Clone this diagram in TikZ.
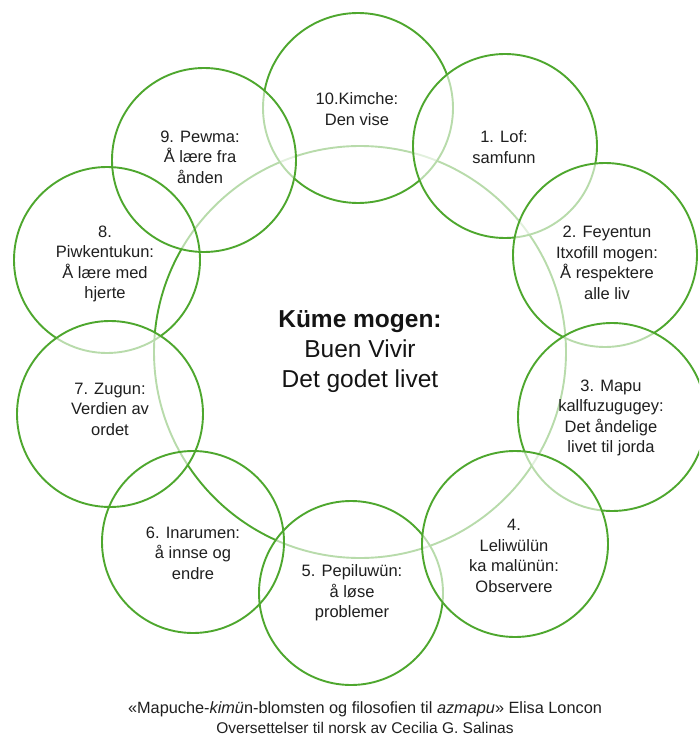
\documentclass[tikz,border=0pt]{standalone}
\usepackage{fontspec}
\setmainfont{Liberation Sans}
\definecolor{petal}{RGB}{78,167,46}
\tikzset{
  ring/.style={draw=petal, line width=1.9pt, fill=white, fill opacity=0.6},
  openring/.style={draw=petal, line width=1.9pt},
  label/.style={align=center, font=\fontsize{16.5}{20.5}\selectfont, text=black!88},
  core/.style={align=center, font=\fontsize{24.5}{30}\selectfont, text=black!92},
  caption/.style={align=center, font=\fontsize{15.5}{20}\selectfont, text=black!88}
}
\begin{document}
\begin{tikzpicture}[x=1pt, y=-1pt]
\useasboundingbox (0,0) rectangle (699,738);
\begin{scope}
\clip (0,0) rectangle (699,738);
% the central circle, lowest in the stack
\draw[openring] (360,352) circle (206);
% the ten petals, in stacking order
\path[ring] (358,108) circle (95);  % 10
\path[ring] (204,160) circle (92);  % 9
\path[ring] (505,146) circle (92);  % 1
\path[ring] (605,255) circle (92);  % 2
\path[ring] (612,417) circle (94);  % 3
\path[ring] (351,593) circle (92);  % 5
\path[ring] (515,544) circle (93);  % 4
\path[openring] (107,260) circle (93); % 8
\path[ring] (110,414) circle (93);  % 7
\path[openring] (193,542) circle (91); % 6
\end{scope}

% texts
\node[core] (centre) at (360,352) {\textbf{Küme mogen:}\\Buen Vivir\\Det godet livet};
\node[label] (t10) at (357,109) {10.Kimche:\\Den vise};
\node[label] (t1) at (504,147) {1. Lof:\\samfunn};
\node[label] (t2) at (607,263) {2. Feyentun\\Itxofill mogen:\\Å respektere\\alle liv};
\node[label] (t3) at (611,418) {3. Mapu\\kallfuzugugey:\\Det åndelige\\livet til jorda};
\node[label] (t4) at (514,556) {4.\\Leliwülün\\ka malünün:\\Observere};
\node[label] (t5) at (352,593) {5. Pepiluwün:\\å løse\\problemer};
\node[label] (t6) at (193,553) {6. Inarumen:\\å innse og\\endre};
\node[label] (t7) at (110,409) {7. Zugun:\\Verdien av\\ordet};
\node[label] (t8) at (105,264) {8.\\Piwkentukun:\\Å lære med\\hjerte};
\node[label] (t9) at (200,157) {9. Pewma:\\Å lære fra\\ånden};

\node[caption] (cap) at (365,718) {{\fontsize{16.3}{20}\selectfont «Mapuche-\textit{kimü}n-blomsten og filosofien til \textit{azmapu}» Elisa Loncon}\\Oversettelser til norsk av Cecilia G. Salinas};
\end{tikzpicture}
\end{document}
